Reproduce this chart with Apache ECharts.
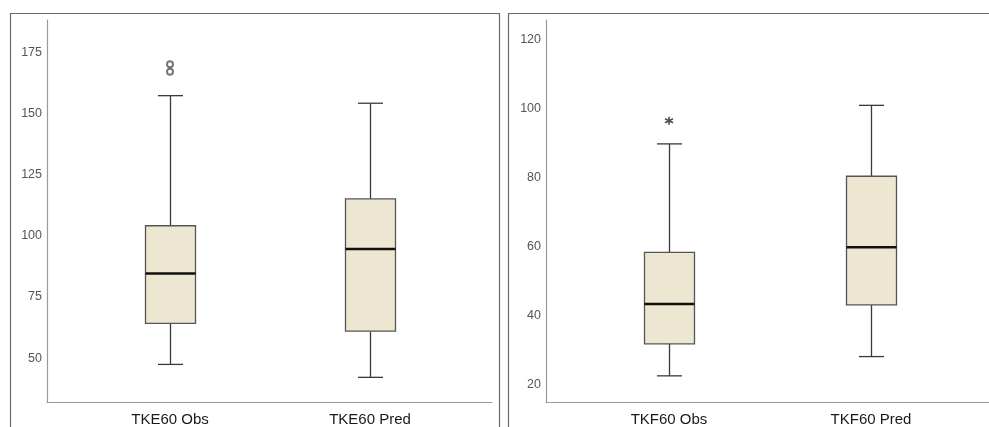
<!DOCTYPE html>
<html>
<head>
<meta charset="utf-8">
<style>html,body{margin:0;padding:0;background:#fff;}#c{width:989px;height:427px;}</style>
<script src="https://cdn.jsdelivr.net/npm/echarts@6/dist/echarts.min.js"></script>
</head>
<body>
<div id="c"></div>
<script>
// ---- data ----
var categoriesE = ['TKE60 Obs', 'TKE60 Pred'];
var categoriesF = ['TKF60 Obs', 'TKF60 Pred'];
// [min, Q1, median, Q3, max]
var boxE = [
  [47.4, 64.2, 84.6, 104.2, 157.5],
  [42.1, 61.0, 94.7, 115.2, 154.4]
];
var boxF = [
  [22.4, 31.7, 43.3, 58.3, 89.8],
  [28.0, 43.0, 59.8, 80.4, 101.0]
];
var outliersE = [[1, 170.4], [1, 167.3]];
var outliersF = [[1, 96.5]];
var ticksE = [50, 75, 100, 125, 150, 175];
var ticksF = [20, 40, 60, 80, 100, 120];

var chart = echarts.init(document.getElementById('c'), null, {renderer: 'canvas'});

function toRows(arr) {
  return arr.map(function (b, i) { return [i + 1].concat(b); });
}

function renderBox(params, api) {
  var x = api.value(0);
  var pMin = api.coord([x, api.value(1)]);
  var pQ1 = api.coord([x, api.value(2)]);
  var pMed = api.coord([x, api.value(3)]);
  var pQ3 = api.coord([x, api.value(4)]);
  var pMax = api.coord([x, api.value(5)]);
  var cx = Math.round(pMed[0]) + 0.5;
  var bw = 50, cw = 25;
  var lineStyle = {stroke: '#3a3a3a', lineWidth: 1.3, fill: null};
  return {
    type: 'group',
    children: [
      {type: 'line', shape: {x1: cx, y1: pQ3[1], x2: cx, y2: pMax[1]}, style: lineStyle},
      {type: 'line', shape: {x1: cx, y1: pQ1[1], x2: cx, y2: pMin[1]}, style: lineStyle},
      {type: 'line', shape: {x1: cx - cw / 2, y1: pMax[1], x2: cx + cw / 2, y2: pMax[1]}, style: lineStyle},
      {type: 'line', shape: {x1: cx - cw / 2, y1: pMin[1], x2: cx + cw / 2, y2: pMin[1]}, style: lineStyle},
      {type: 'rect', shape: {x: cx - bw / 2, y: pQ3[1], width: bw, height: pQ1[1] - pQ3[1]},
        style: {fill: '#ede6d1', stroke: '#555555', lineWidth: 1.3}},
      {type: 'line', shape: {x1: cx - bw / 2, y1: pMed[1], x2: cx + bw / 2, y2: pMed[1]},
        style: {stroke: '#111111', lineWidth: 2.5}}
    ]
  };
}

function xAxisOf(idx, cats, min, max) {
  return {
    type: 'value', gridIndex: idx, min: min, max: max,
    splitLine: {show: false},
    axisLine: {show: true, lineStyle: {color: '#9a9a9a', width: 1.2}},
    axisTick: {show: false},
    axisLabel: {
      customValues: [1, 2],
      formatter: function (v) { return cats[Math.round(v) - 1]; },
      color: '#1a1a1a', fontSize: 15, fontFamily: 'Liberation Sans, Arial, sans-serif', margin: 10
    }
  };
}
function yAxisOf(idx, ticks, min, max) {
  return {
    type: 'value', gridIndex: idx, min: min, max: max,
    splitLine: {show: false},
    axisLine: {show: true, lineStyle: {color: '#9a9a9a', width: 1.2}},
    axisTick: {show: false},
    axisLabel: {
      customValues: ticks,
      color: '#555555', fontSize: 12.5, fontFamily: 'Liberation Sans, Arial, sans-serif', margin: 5
    }
  };
}

var option = {
  animation: false,
  backgroundColor: '#ffffff',
  graphic: [
    {type: 'rect', shape: {x: 10.5, y: 13.5, width: 489, height: 430}, style: {fill: null, stroke: '#6a6a6a', lineWidth: 1.2}, silent: true},
    {type: 'rect', shape: {x: 508.5, y: 13.5, width: 500, height: 430}, style: {fill: null, stroke: '#6a6a6a', lineWidth: 1.2}, silent: true}
  ],
  grid: [
    {left: 47, top: 20, width: 445, height: 382},
    {left: 546, top: 20, width: 443, height: 382}
  ],
  xAxis: [
    xAxisOf(0, categoriesE, 0.385, 2.61),
    xAxisOf(1, categoriesF, 0.391, 2.584)
  ],
  yAxis: [
    yAxisOf(0, ticksE, 32, 188.5),
    yAxisOf(1, ticksF, 14.8, 125.8)
  ],
  series: [
    {type: 'custom', xAxisIndex: 0, yAxisIndex: 0, renderItem: renderBox, data: toRows(boxE),
      encode: {x: 0, y: [1, 2, 3, 4, 5]}},
    {type: 'custom', xAxisIndex: 1, yAxisIndex: 1, renderItem: renderBox, data: toRows(boxF),
      encode: {x: 0, y: [1, 2, 3, 4, 5]}},
    {type: 'scatter', xAxisIndex: 0, yAxisIndex: 0, data: outliersE, symbol: 'emptyCircle', symbolSize: 6,
      itemStyle: {color: '#555555', borderWidth: 1.2}},
    {type: 'scatter', xAxisIndex: 1, yAxisIndex: 1, data: outliersF,
      symbol: 'path://M0,-5L0,5M-4.33,-2.5L4.33,2.5M-4.33,2.5L4.33,-2.5', symbolSize: 8,
      itemStyle: {color: '#222222', borderColor: '#222222', borderWidth: 1.6}}
  ]
};
chart.setOption(option);
</script>
</body>
</html>
